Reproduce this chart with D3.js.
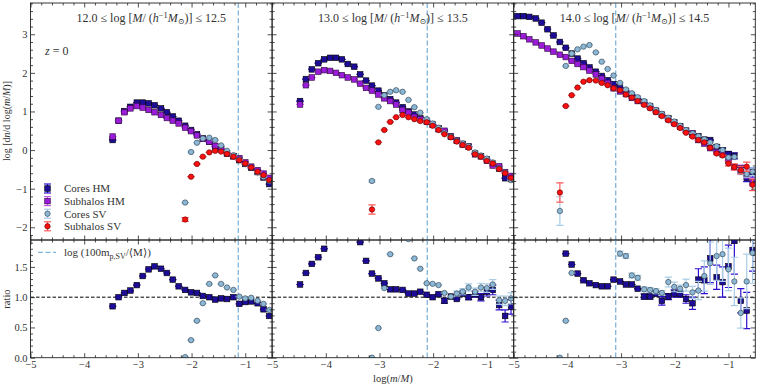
<!DOCTYPE html>
<html>
<head>
<meta charset="utf-8">
<script src="https://cdn.jsdelivr.net/npm/d3@7"></script>
<style>
  body { margin: 0; background: #fff; }
  text { font-family: "Liberation Serif", "DejaVu Serif", serif; fill: #333; }
</style>
</head>
<body>
<div id="chart"></div>
<script>
// bin centres in log(m/M), shared by every panel
var bins = [-4.93, -4.82, -4.71, -4.59, -4.48, -4.37, -4.26, -4.14, -4.03, -3.92,
  -3.81, -3.70, -3.59, -3.47, -3.36, -3.25, -3.14, -3.02, -2.91, -2.80,
  -2.69, -2.57, -2.46, -2.35, -2.24, -2.12, -2.01, -1.90, -1.79, -1.67,
  -1.56, -1.45, -1.34, -1.22, -1.11, -1.00, -0.89, -0.77, -0.66, -0.55];

var massLow = ["12.0", "13.0", "14.0"];
var massHigh = ["12.5", "13.5", "14.5"];
var resolutionLine = [-1.13, -2.11, -3.10];

var seriesNames = ["Cores HM", "Subhalos HM", "Cores SV", "Subhalos SV"];

// first bin index of every series, per panel
var coresHMStart = [13, 4, 0];
var subHMStart = [13, 4, 0];
var coresSVStart = [25, 16, 7];
var subSVStart = [25, 16, 7];
var ratioHMStart = [13, 4, 8];
var ratioSVStart = [25, 16, 7];

// log [dn / d log(m/M)]
var coresHM1 = [0.26, 0.76, 1.01, 1.12, 1.23, 1.23, 1.21, 1.16, 1.08, 0.98, 0.87, 0.76, 0.63, 0.52,
  0.41, 0.30, 0.22, 0.09, 0.02, -0.09, -0.16, -0.26, -0.36, -0.46, -0.57, -0.71, -0.88];
var subHM1 = [0.35, 0.76, 0.98, 1.08, 1.14, 1.10, 1.04, 0.98, 0.91, 0.83, 0.76, 0.69, 0.58, 0.49,
  0.38, 0.29, 0.22, 0.11, 0.03, -0.08, -0.16, -0.21, -0.32, -0.43, -0.52, -0.61, -0.72];
var coresSV1 = [-1.36, -0.05, 0.19, 0.30, 0.32, 0.26, 0.12, -0.02, -0.13, -0.24, -0.36, -0.45,
  -0.58, -0.70, -0.80];
var subSV1 = [-1.80, -0.69, -0.36, -0.17, -0.06, -0.02, -0.04, -0.10, -0.17, -0.26, -0.35, -0.45,
  -0.56, -0.65, -0.78];

var coresHM2 = [1.27, 1.84, 2.09, 2.25, 2.35, 2.39, 2.39, 2.35, 2.23, 2.16, 1.96, 1.80, 1.67, 1.54,
  1.42, 1.32, 1.23, 1.11, 1.00, 0.92, 0.82, 0.76, 0.66, 0.56, 0.47, 0.35, 0.24, 0.16, 0.09, -0.09,
  -0.16, -0.24, -0.35, -0.48, -0.73, -0.75];
var subHM2 = [1.18, 1.68, 1.88, 2.03, 2.07, 2.05, 2.00, 1.94, 1.88, 1.83, 1.72, 1.61, 1.54, 1.44,
  1.34, 1.27, 1.18, 1.04, 0.97, 0.86, 0.80, 0.73, 0.66, 0.54, 0.50, 0.35, 0.25, 0.14, 0.09, -0.11,
  -0.16, -0.28, -0.40, -0.42, -0.57, -0.67];
var coresSV2 = [-0.80, 1.12, 1.42, 1.51, 1.55, 1.51, 1.30, 1.11, 0.97, 0.80, 0.69, 0.58, 0.45, 0.35,
  0.24, 0.17, 0.10, -0.06, -0.14, -0.22, -0.32, -0.47, -0.58, -0.78];
var subSV2 = [-1.54, 0.20, 0.52, 0.73, 0.85, 0.91, 0.85, 0.80, 0.75, 0.72, 0.63, 0.52, 0.41, 0.33,
  0.22, 0.13, 0.06, -0.11, -0.17, -0.28, -0.35, -0.49, -0.60, -0.72];

var coresHM3 = [3.47, 3.47, 3.45, 3.41, 3.30, 3.13, 2.97, 2.80, 2.65, 2.50, 2.37, 2.25, 2.14, 2.03,
  1.92, 1.81, 1.71, 1.62, 1.53, 1.43, 1.33, 1.24, 1.13, 1.02, 0.91, 0.82, 0.72, 0.62, 0.50, 0.40,
  0.36, 0.27, 0.26, 0.08, -0.01, -0.10, -0.15, -0.50, -0.72, -0.58];
var subHM3 = [3.02, 2.95, 2.87, 2.79, 2.71, 2.63, 2.55, 2.47, 2.41, 2.31, 2.23, 2.15, 2.06, 1.96,
  1.85, 1.74, 1.60, 1.52, 1.45, 1.35, 1.27, 1.21, 1.11, 1.00, 0.92, 0.80, 0.70, 0.60, 0.50, 0.44,
  0.26, 0.17, 0.05, -0.05, -0.11, -0.28, -0.44, -0.47, -0.62, -0.83];
var coresSV3 = [-1.58, 2.18, 2.50, 2.61, 2.68, 2.72, 2.53, 2.29, 2.10, 1.93, 1.74, 1.57, 1.47, 1.37,
  1.27, 1.16, 1.04, 0.94, 0.84, 0.74, 0.63, 0.52, 0.43, 0.36, 0.28, 0.20, 0.10, 0.00, -0.19, -0.18,
  -0.56, -0.62, -0.56];
var subSV3 = [-1.10, 1.14, 1.42, 1.62, 1.77, 1.81, 1.80, 1.74, 1.68, 1.60, 1.55, 1.44, 1.36, 1.27,
  1.17, 1.08, 0.98, 0.88, 0.77, 0.67, 0.57, 0.45, 0.35, 0.26, 0.20, 0.06, -0.09, -0.14, -0.35,
  -0.44, -0.52, -0.43, -0.90];

// ratios (lower panels)
var ratioHM1 = [0.85, 1.00, 1.07, 1.11, 1.20, 1.35, 1.46, 1.51, 1.47, 1.40, 1.29, 1.18, 1.12, 1.08,
  1.07, 1.02, 1.00, 0.96, 0.98, 0.97, 1.00, 0.89, 0.92, 0.93, 0.90, 0.80, 0.69];
var ratioSV1 = [0.01, 0.29, 0.61, 0.90, 1.22, 1.36, 1.22, 1.16, 1.12, 1.01, 0.98, 0.99, 0.94, 0.89, 0.79];
var ratioHM2 = [1.21, 1.40, 1.55, 1.66, 1.80, 2.2, 2.3, 2.3, 2.2, 2.1, 1.91, 1.60, 1.39, 1.31, 1.23,
  1.13, 1.13, 1.12, 1.06, 1.06, 1.09, 1.04, 1.00, 1.05, 0.94, 1.01, 0.97, 1.06, 1.00, 1.05, 1.00,
  1.09, 1.12, 0.87, 0.69, 0.84];
var ratioSV2 = [0.0, 0.49, 1.15, 1.71, 2.1, 2.1, 1.96, 1.64, 1.47, 1.23, 1.22, 1.20, 1.07, 1.01, 1.06,
  1.09, 1.16, 1.09, 1.16, 1.15, 1.21, 0.95, 0.94, 0.98];
var ratioHM3 = [1.72, 1.54, 1.39, 1.28, 1.23, 1.20, 1.18, 1.18, 1.29, 1.26, 1.21, 1.21, 1.14, 1.01,
  1.01, 1.06, 0.94, 1.01, 1.06, 1.05, 0.97, 0.90, 1.29, 1.28, 1.64, 1.33, 1.25, 1.51, 1.93, 0.94,
  0.78, 1.78];
var ratioSV3 = [0.0, 0.61, 1.40, 2.3, 2.6, 2.8, 2.9, 2.4, 2.2, 2.05, 1.72, 1.68, 1.36, 1.32, 1.13,
  1.12, 1.10, 1.07, 1.25, 1.17, 1.14, 1.20, 1.08, 1.11, 1.35, 1.56, 1.68, 1.71, 1.46, 1.26, 0.74,
  1.26, 1.73];

// error bars as [bin index, error] pairs
var errSubSV1 = [[25, 0.05]];
var errCoresSV2 = [[16, 0.03]];
var errSubSV2 = [[16, 0.12]];
var errCoresHM3 = [[33, 0.05], [34, 0.06], [35, 0.06], [36, 0.08], [37, 0.10], [38, 0.10], [39, 0.12]];
var errSubHM3 = [[36, 0.06], [37, 0.08], [38, 0.10], [39, 0.10]];
var errCoresSV3 = [[7, 0.37], [37, 0.08], [38, 0.08], [39, 0.10]];
var errSubSV3 = [[7, 0.25], [35, 0.06], [36, 0.08], [37, 0.10], [38, 0.12], [39, 0.15]];
var errRatioHM2 = [[28, 0.04], [31, 0.04], [32, 0.04], [33, 0.05], [34, 0.06], [35, 0.07], [36, 0.08],
  [37, 0.08], [38, 0.10], [39, 0.12]];
var errRatioSV2 = [[30, 0.04], [31, 0.05], [32, 0.06], [33, 0.06], [34, 0.07], [35, 0.07], [36, 0.08],
  [37, 0.07], [38, 0.08], [39, 0.09]];
var errRatioHM3 = [[21, 0.04], [22, 0.04], [23, 0.04], [24, 0.07], [25, 0.05], [26, 0.06], [27, 0.05],
  [28, 0.07], [29, 0.10], [30, 0.18], [31, 0.22], [32, 0.40], [33, 0.20], [34, 0.25], [35, 0.35],
  [36, 0.55], [37, 0.20], [38, 0.30], [39, 0.35]];
var errRatioSV3 = [[17, 0.04], [18, 0.04], [19, 0.04], [20, 0.04], [21, 0.04], [22, 0.04], [23, 0.04],
  [24, 0.04], [25, 0.08], [26, 0.08], [27, 0.06], [28, 0.10], [29, 0.10], [30, 0.15], [31, 0.25],
  [32, 0.35], [33, 0.40], [34, 0.45], [35, 0.35], [36, 0.40], [37, 0.25], [38, 0.45], [39, 0.50]];

var xTicks = [-5, -4, -3, -2, -1];
var yTopTicks = [-2, -1, 0, 1, 2, 3];
var yRatioTicks = [0, 0.5, 1, 1.5];

// ---------------------------------------------------------------
var svgWidth = 761;
var svgHeight = 385;
var left = 30.5;
var panelWidth = 241.6;
var topY = 3, midY = 240, botY = 357.7;

var styles = [
  {shape: "square", fill: "#1d0c98", stroke: "#000", err: "#3010d0"},
  {shape: "square", fill: "#9a1bd8", stroke: "#2a0a3a", err: "#c35ae8"},
  {shape: "circle", fill: "#8cb8d6", stroke: "#2a3a48", err: "#a9cde6"},
  {shape: "circle", fill: "#ff1010", stroke: "#500", err: "#ff5a5a"}
];

var panels = [0, 1, 2].map(function(p) {
  return {
    top: [
      {start: coresHMStart[p], y: [coresHM1, coresHM2, coresHM3][p], err: [[], [], errCoresHM3][p]},
      {start: subHMStart[p], y: [subHM1, subHM2, subHM3][p], err: [[], [], errSubHM3][p]},
      {start: coresSVStart[p], y: [coresSV1, coresSV2, coresSV3][p], err: [[], errCoresSV2, errCoresSV3][p]},
      {start: subSVStart[p], y: [subSV1, subSV2, subSV3][p], err: [errSubSV1, errSubSV2, errSubSV3][p]}
    ],
    ratio: [
      {start: ratioHMStart[p], y: [ratioHM1, ratioHM2, ratioHM3][p], err: [[], errRatioHM2, errRatioHM3][p]},
      {start: ratioSVStart[p], y: [ratioSV1, ratioSV2, ratioSV3][p], err: [[], errRatioSV2, errRatioSV3][p]}
    ]
  };
});

var svg = d3.select("#chart")
  .append("svg")
  .attr("width", svgWidth)
  .attr("height", svgHeight)
  .style("background", "#fff");

var defs = svg.append("defs");

var yTop = d3.scaleLinear().domain([-2.33, 3.81]).range([midY, topY]);
var yRatio = d3.scaleLinear().domain([0, 1.945]).range([botY, midY]);

function drawMarker(g, shape, x, y, st) {
  if (shape === "square") {
    g.append("rect")
      .attr("x", x - 2.8).attr("y", y - 2.8)
      .attr("width", 5.6).attr("height", 5.6)
      .attr("fill", st.fill).attr("stroke", st.stroke).attr("stroke-width", 0.6);
  } else {
    g.append("circle")
      .attr("cx", x).attr("cy", y).attr("r", 2.7)
      .attr("fill", st.fill).attr("stroke", st.stroke).attr("stroke-width", 0.6);
  }
}

function drawSeries(g, xs, ys, s, st) {
  var pts = s.y.map(function(v, i) {
    return {x: bins[s.start + i], y: v, e: 0, k: s.start + i};
  });
  s.err.forEach(function(pair) {
    pts.forEach(function(d) { if (d.k === pair[0]) d.e = pair[1]; });
  });

  var eg = g.append("g").attr("stroke", st.err).attr("stroke-width", 1.2);
  pts.forEach(function(d) {
    var cx = xs(d.x);
    eg.append("line").attr("x1", cx).attr("x2", cx)
      .attr("y1", ys(d.y - d.e)).attr("y2", ys(d.y + d.e));
    [d.y - d.e, d.y + d.e].forEach(function(v) {
      eg.append("line").attr("x1", cx - 3.6).attr("x2", cx + 3.6)
        .attr("y1", ys(v)).attr("y2", ys(v));
    });
  });
  pts.forEach(function(d) {
    drawMarker(g, st.shape, xs(d.x), ys(d.y), st);
  });
}

function drawFrame(g, xs, ys, x0, y0, y1, majorY, minorStep, labelY, labelX, fmtY) {
  var minorX = d3.range(-5, -0.49, 0.2).filter(function(v) { return Math.abs(v - Math.round(v)) > 0.01; });
  var dom = ys.domain();
  var minorY = d3.range(Math.ceil(dom[0] / minorStep) * minorStep, dom[1], minorStep)
    .filter(function(v) { return majorY.every(function(m) { return Math.abs(m - v) > 1e-6; }); });

  function add(axis, transform, vals, size, labels, fmt) {
    var a = g.append("g").attr("transform", transform)
      .call(axis.tickValues(vals).tickSizeInner(-size).tickSizeOuter(0).tickPadding(3)
        .tickFormat(labels ? fmt : ""));
    a.select(".domain").remove();
    a.selectAll("line").attr("stroke", "#222").attr("stroke-width", 0.8);
    a.selectAll("text").style("font-size", "10.5px").attr("fill", "#333")
      .style("font-family", '"Liberation Serif", "DejaVu Serif", serif');
    return a;
  }
  // x ticks, bottom and top
  add(d3.axisBottom(xs), "translate(0," + y1 + ")", xTicks, 4.5, labelX, d3.format("d"));
  add(d3.axisBottom(xs), "translate(0," + y1 + ")", minorX, 2.5, false);
  add(d3.axisTop(xs), "translate(0," + y0 + ")", xTicks, 4.5, false);
  add(d3.axisTop(xs), "translate(0," + y0 + ")", minorX, 2.5, false);
  // y ticks, left and right
  add(d3.axisLeft(ys), "translate(" + x0 + ",0)", majorY, 4.5, labelY, fmtY);
  add(d3.axisLeft(ys), "translate(" + x0 + ",0)", minorY, 2.5, false);
  add(d3.axisRight(ys), "translate(" + (x0 + panelWidth) + ",0)", majorY, 4.5, false);
  add(d3.axisRight(ys), "translate(" + (x0 + panelWidth) + ",0)", minorY, 2.5, false);

  g.append("rect")
    .attr("x", x0).attr("y", y0)
    .attr("width", panelWidth).attr("height", y1 - y0)
    .attr("fill", "none").attr("stroke", "#222").attr("stroke-width", 0.9);
}

panels.forEach(function(panel, p) {
  var x0 = left + p * panelWidth;
  var xs = d3.scaleLinear().domain([-5, -0.5]).range([x0, x0 + panelWidth]);

  ["top", "ratio"].forEach(function(part) {
    var y0 = part === "top" ? topY : midY;
    var y1 = part === "top" ? midY : botY;
    var ys = part === "top" ? yTop : yRatio;
    var id = "clip-" + part + p;
    defs.append("clipPath").attr("id", id)
      .append("rect").attr("x", x0).attr("y", y0).attr("width", panelWidth).attr("height", y1 - y0);

    var g = svg.append("g").attr("clip-path", "url(#" + id + ")");

    // resolution limit
    g.append("line")
      .attr("x1", xs(resolutionLine[p])).attr("x2", xs(resolutionLine[p]))
      .attr("y1", y0).attr("y2", y1)
      .attr("stroke", "#80b4da").attr("stroke-width", 1.3).attr("stroke-dasharray", "5,2.5");

    if (part === "ratio") {
      g.append("line")
        .attr("x1", x0).attr("x2", x0 + panelWidth)
        .attr("y1", yRatio(1)).attr("y2", yRatio(1))
        .attr("stroke", "#000").attr("stroke-width", 1).attr("stroke-dasharray", "3.5,2");
      drawSeries(g, xs, ys, panel.ratio[0], styles[0]);
      drawSeries(g, xs, ys, panel.ratio[1], styles[2]);
    } else {
      panel.top.forEach(function(s, i) { drawSeries(g, xs, ys, s, styles[i]); });
    }

    var frame = svg.append("g");
    if (part === "top") {
      drawFrame(frame, xs, ys, x0, y0, y1, yTopTicks, 0.2, p === 0, false, d3.format("d"));
    } else {
      drawFrame(frame, xs, ys, x0, y0, y1, yRatioTicks, 0.1, p === 0, true, d3.format(".1f"));
    }
  });

  // panel title
  var t = svg.append("text")
    .attr("x", x0 + panelWidth / 2).attr("y", 21.5)
    .attr("text-anchor", "middle")
    .style("font-size", "12px");
  t.append("tspan").text(massLow[p] + " \u2264 log [");
  t.append("tspan").style("font-style", "italic").text("M");
  t.append("tspan").text("/ (");
  t.append("tspan").style("font-style", "italic").text("h");
  t.append("tspan").attr("dy", -4).style("font-size", "8.5px").text("\u22121");
  t.append("tspan").attr("dy", 4).style("font-style", "italic").text("M");
  t.append("tspan").attr("dy", 2.5).style("font-size", "8px").text("\u2299");
  t.append("tspan").attr("dy", -2.5).text(")] \u2264 " + massHigh[p]);
});

// redshift label
var zt = svg.append("text").attr("x", 45).attr("y", 55).style("font-size", "12px");
zt.append("tspan").style("font-style", "italic").text("z");
zt.append("tspan").text(" = 0");

// legend
seriesNames.forEach(function(name, i) {
  var ly = 188.5 + i * 12.6;
  var st = styles[i];
  var lg = svg.append("g");
  lg.append("line").attr("x1", 47.5).attr("x2", 47.5).attr("y1", ly - 4.5).attr("y2", ly + 4.5)
    .attr("stroke", st.err).attr("stroke-width", 1.2);
  [ly - 4.5, ly + 4.5].forEach(function(v) {
    lg.append("line").attr("x1", 44).attr("x2", 51).attr("y1", v).attr("y2", v)
      .attr("stroke", st.err).attr("stroke-width", 1.2);
  });
  drawMarker(lg, st.shape, 47.5, ly, st);
  lg.append("text").attr("x", 64).attr("y", ly + 3.8).style("font-size", "11px").text(name);
});

// resolution legend in ratio panel
svg.append("line").attr("x1", 38).attr("x2", 56).attr("y1", 252.3).attr("y2", 252.3)
  .attr("stroke", "#80b4da").attr("stroke-width", 1.3).attr("stroke-dasharray", "5,2.5");
var rl = svg.append("text").attr("x", 64).attr("y", 256).style("font-size", "11px");
rl.append("tspan").text("log (100m");
rl.append("tspan").attr("dy", 2.5).style("font-size", "8px").text("p,SV");
rl.append("tspan").attr("dy", -2.5).text("/\u27E8M\u27E9)");

// axis labels
var yl = svg.append("text")
  .attr("transform", "translate(10," + 121 + ") rotate(-90)")
  .attr("text-anchor", "middle").style("font-size", "10px");
yl.append("tspan").text("log [d");
yl.append("tspan").style("font-style", "italic").text("n");
yl.append("tspan").text("/d log(");
yl.append("tspan").style("font-style", "italic").text("m");
yl.append("tspan").text("/");
yl.append("tspan").style("font-style", "italic").text("M");
yl.append("tspan").text(")]");

svg.append("text")
  .attr("transform", "translate(10," + 299 + ") rotate(-90)")
  .attr("text-anchor", "middle").style("font-size", "10.5px").text("ratio");

var xl = svg.append("text")
  .attr("x", left + panelWidth * 1.5).attr("y", 382)
  .attr("text-anchor", "middle").style("font-size", "10.5px");
xl.append("tspan").text("log(");
xl.append("tspan").style("font-style", "italic").text("m");
xl.append("tspan").text("/");
xl.append("tspan").style("font-style", "italic").text("M");
xl.append("tspan").text(")");
</script>
</body>
</html>
